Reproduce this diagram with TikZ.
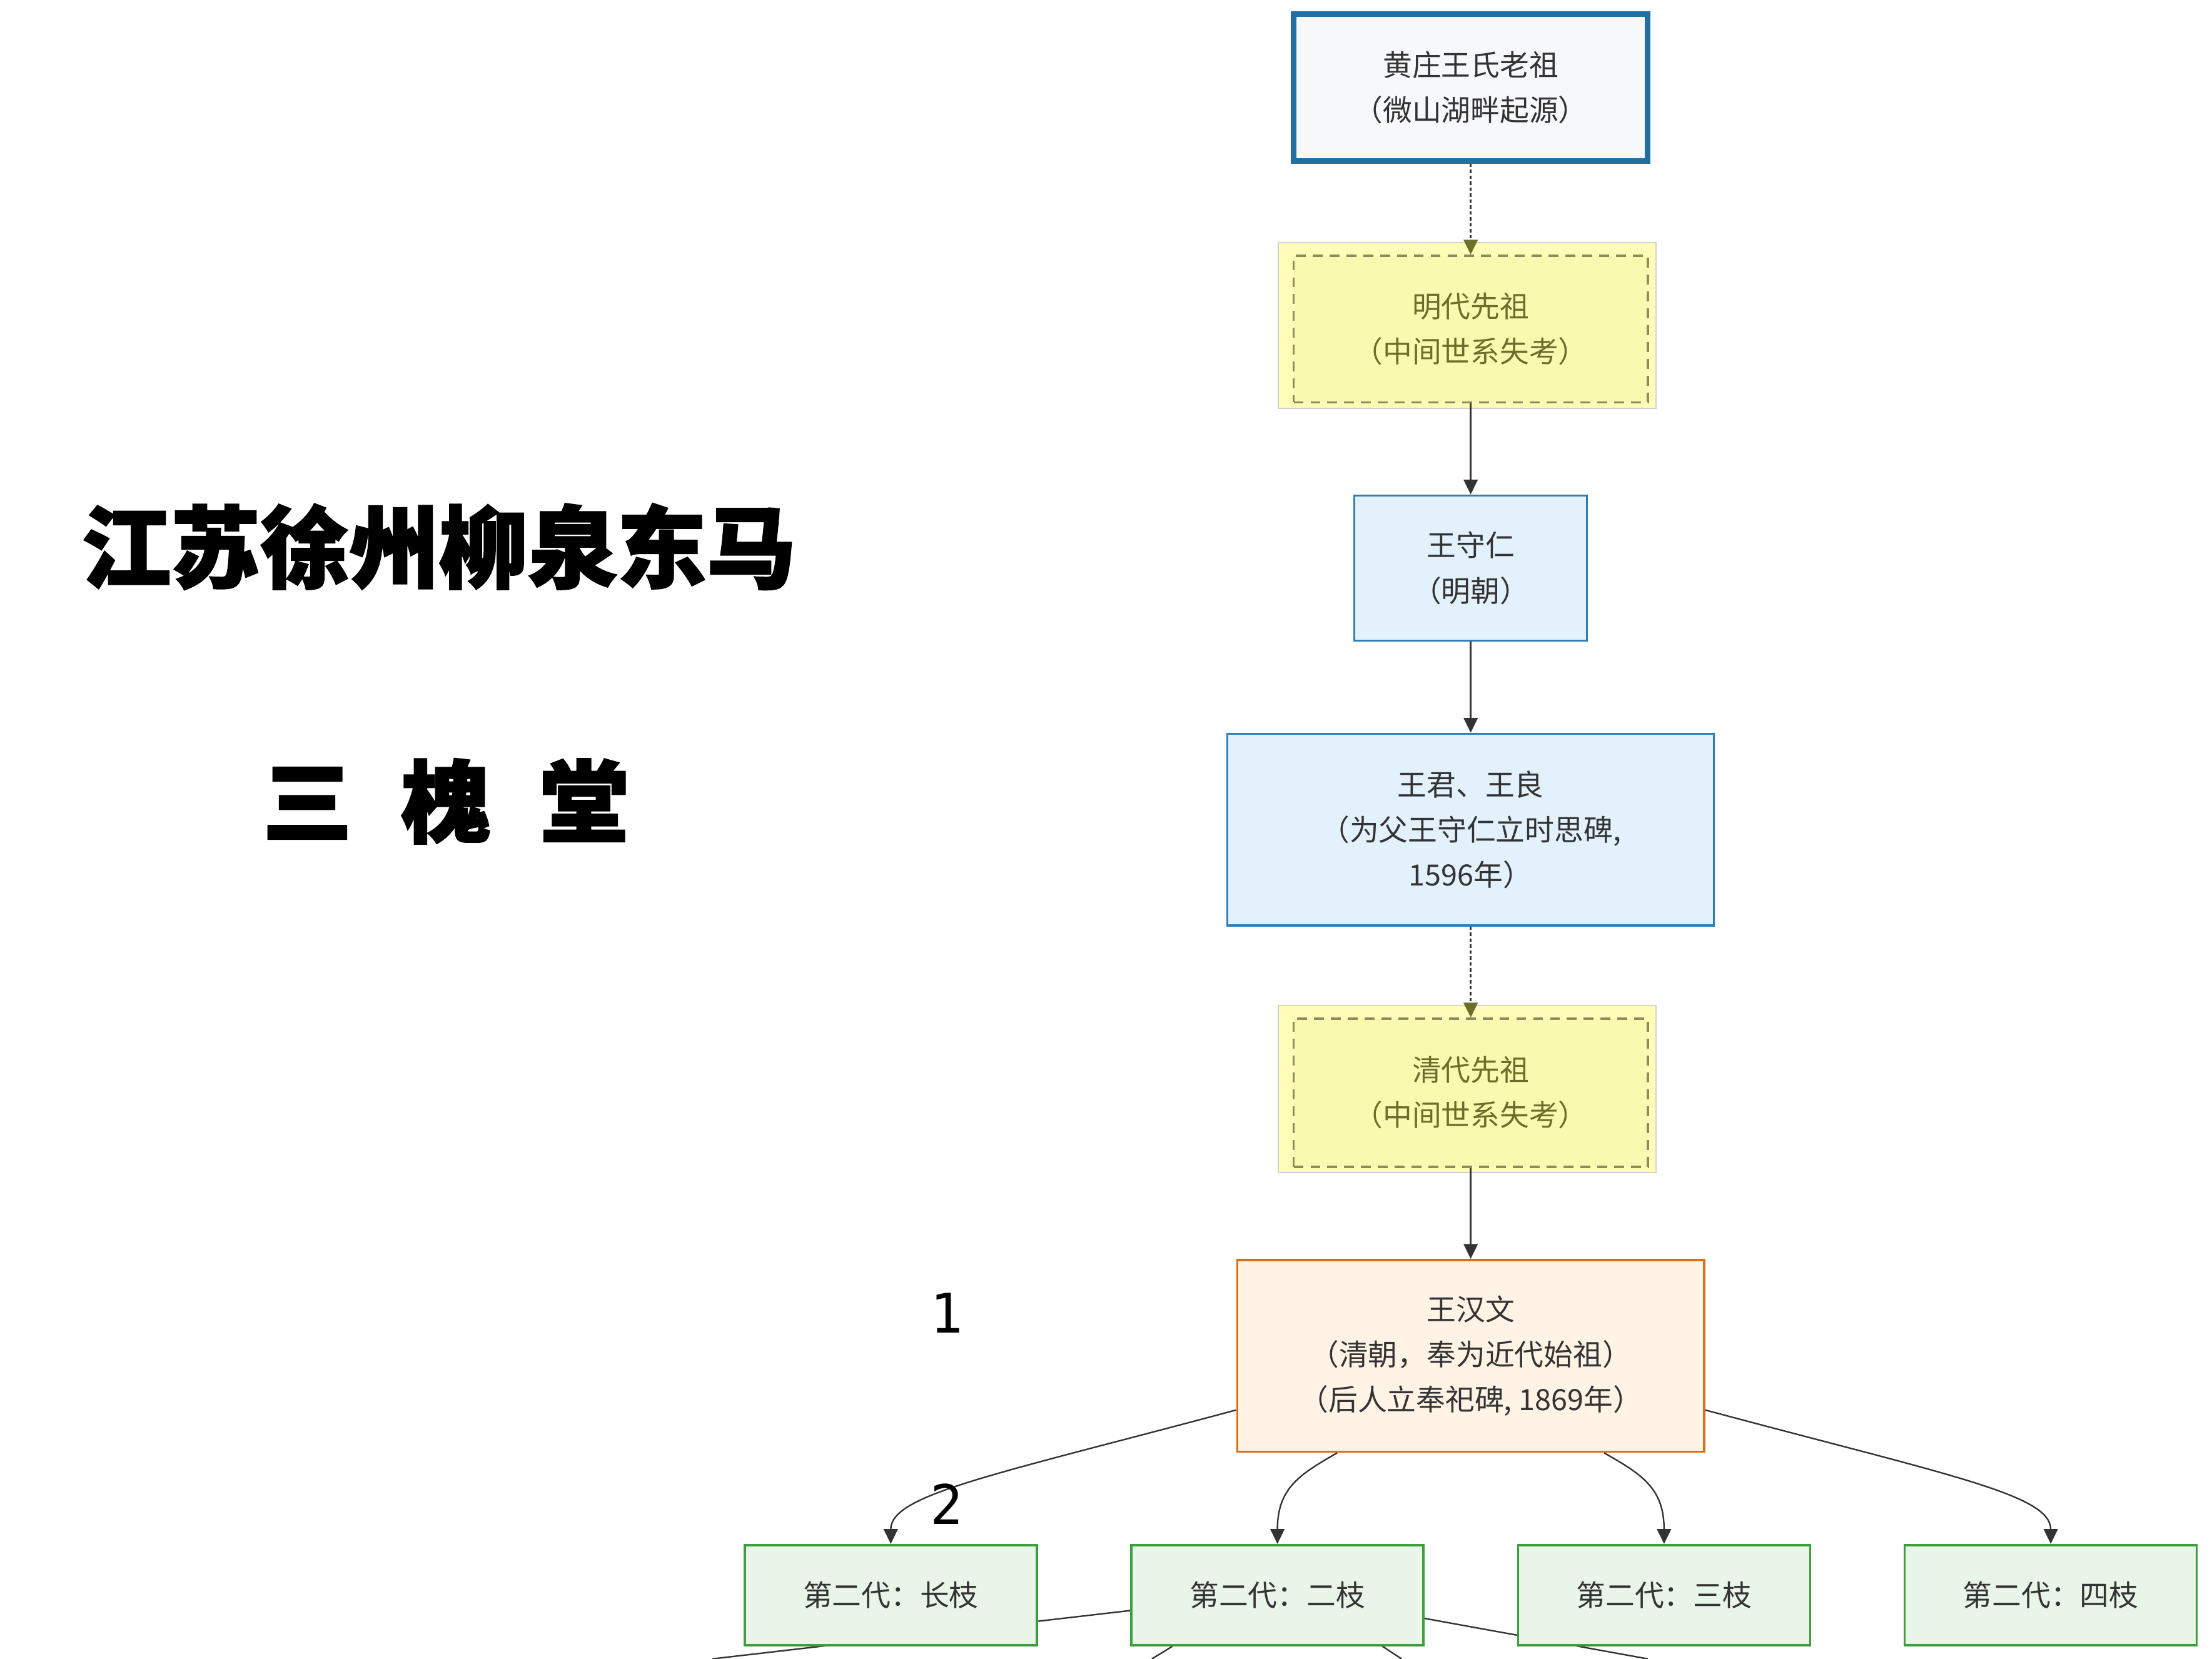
\documentclass[tikz,border=0pt]{standalone}
\usepackage{fontspec}
\setmainfont{Noto Sans CJK SC}
\newfontfamily\titlefont[BoldFeatures={FakeBold=2}]{Noto Sans CJK SC}
\newfontfamily\numfont{DejaVu Sans Mono}
\usepackage{tikz}
\usetikzlibrary{positioning, arrows.meta, backgrounds}

\definecolor{inkgray}{HTML}{333333}
\definecolor{rootblue}{HTML}{1F6FA5}
\definecolor{rootfill}{HTML}{F7F8FA}
\definecolor{mingblue}{HTML}{2C7FB8}
\definecolor{mingfill}{HTML}{E3F1FD}
\definecolor{lostfill}{HTML}{FAF9B0}
\definecolor{lostpanel}{HTML}{FFFDB8}
\definecolor{lostedge}{HTML}{8C8C5C}
\definecolor{losttext}{HTML}{6E6E2C}
\definecolor{hanorange}{HTML}{D6701A}
\definecolor{hanfill}{HTML}{FFF3E6}
\definecolor{branchgreen}{HTML}{3D9E3D}
\definecolor{branchfill}{HTML}{E9F5E9}

\begin{document}
\begin{tikzpicture}[
        node distance=1.29cm and 1.31cm, % Distance between nodes
        every node/.style={font=\fontsize{11.8pt}{18.2pt}\selectfont, align=center, inner sep=0pt, text=inkgray}, % Node style
        root/.style={draw=rootblue, line width=2.2pt, fill=rootfill, minimum width=5.02cm, minimum height=2.08cm},
        lost/.style={draw=lostedge, line width=0.9pt, dash pattern=on 4pt off 2.8pt, fill=lostfill, text=losttext, minimum width=5.02cm, minimum height=2.08cm},
        person/.style={draw=mingblue, line width=0.8pt, fill=mingfill},
        founder/.style={draw=hanorange, line width=0.9pt, fill=hanfill, minimum width=6.62cm, minimum height=2.72cm},
        branch/.style={draw=branchgreen, line width=0.9pt, fill=branchfill, minimum width=4.14cm, minimum height=1.42cm},
        panel/.style={draw=black!18, line width=0.5pt, fill=lostpanel},
        arrow/.style={-{Triangle[length=2.1mm, width=2mm]}, line width=0.6pt, draw=inkgray}, % Arrow style
        dotarrow/.style={-{Triangle[length=2.1mm, width=2mm, color=losttext]}, line width=0.7pt, draw=inkgray, dash pattern=on 1.4pt off 1pt},
        link/.style={line width=0.6pt, draw=inkgray},
        heading/.style={font=\titlefont\bfseries\fontsize{36pt}{40pt}\selectfont, text=black}
    ]

    \useasboundingbox (0,0) rectangle (31.36,-23.52);

    % Title
    \node (place) [heading] at (6.22,-7.75) {江苏徐州柳泉东马};
    \node (hall) [heading] at (6.32,-11.36) {三\hspace{0.55em}槐\hspace{0.55em}堂};

    % Ancestor chain
    \node (root) [root] at (20.85,-1.24) {黄庄王氏老祖\\（微山湖畔起源）};
    \node (ming) [lost, below=of root] {明代先祖\\（中间世系失考）};
    \node (shouren) [person, minimum width=3.3cm, minimum height=2.06cm, below=of ming] {王守仁\\（明朝）};
    \node (junliang) [person, minimum width=6.9cm, minimum height=2.72cm, below=of shouren] {王君、王良\\（为父王守仁立时思碑,\\1596年）};
    \node (qing) [lost, minimum height=2.1cm, below=of junliang] {清代先祖\\（中间世系失考）};
    \node (hanwen) [founder, below=of qing] {王汉文\\（清朝，奉为近代始祖）\\（后人立奉祀碑, 1869年）};

    % Second generation
    \node (er) [branch, below=of hanwen, xshift=-2.74cm] {第二代：二枝};
    \node (zhang) [branch, left=of er] {第二代：长枝};
    \node (san) [branch, right=of er] {第二代：三枝};
    \node (si) [branch, right=of san] {第二代：四枝};

    % Free ends at the lower edge
    \coordinate (cutA) at (10.1,-23.52);
    \coordinate (cutB) at (16.33,-23.52);
    \coordinate (cutC) at (19.87,-23.52);
    \coordinate (cutD) at (23.36,-23.52);

    % Panels and lines behind the nodes
    \begin{scope}[on background layer]
        \draw[panel] ([shift={(-0.2,0.17)}]ming.north west) rectangle ([shift={(0.1,-0.07)}]ming.south east);
        \draw[panel] ([shift={(-0.2,0.17)}]qing.north west) rectangle ([shift={(0.1,-0.07)}]qing.south east);
        \draw[link] (er.186) -- (cutA);
        \draw[link] (er.206) -- (cutB);
        \draw[link] (er.334) -- (cutC);
        \draw[link] (er.351) -- (cutD);
    \end{scope}

    % Chain connections
    \draw[dotarrow] (root) -- (ming);
    \draw[arrow] (ming) -- (shouren);
    \draw[arrow] (shouren) -- (junliang);
    \draw[dotarrow] (junliang) -- (qing);
    \draw[arrow] (qing) -- (hanwen);

    % Branch connections
    \draw[arrow] (hanwen.193) to[out=195, in=90, out distance=3.6cm, in distance=0.7cm] (zhang.north);
    \draw[arrow] (hanwen.216) to[out=210, in=90, out distance=0.6cm, in distance=0.8cm] (er.north);
    \draw[arrow] (hanwen.324) to[out=330, in=90, out distance=0.6cm, in distance=0.8cm] (san.north);
    \draw[arrow] (hanwen.347) to[out=345, in=90, out distance=3.6cm, in distance=0.7cm] (si.north);

    % Numbers
    \node (one) [font=\numfont\fontsize{22pt}{24pt}\selectfont, text=black] at (13.42,-18.62) {1};
    \node (two) [font=\numfont\fontsize{22pt}{24pt}\selectfont, text=black] at (13.42,-21.32) {2};

\end{tikzpicture}
\end{document}
